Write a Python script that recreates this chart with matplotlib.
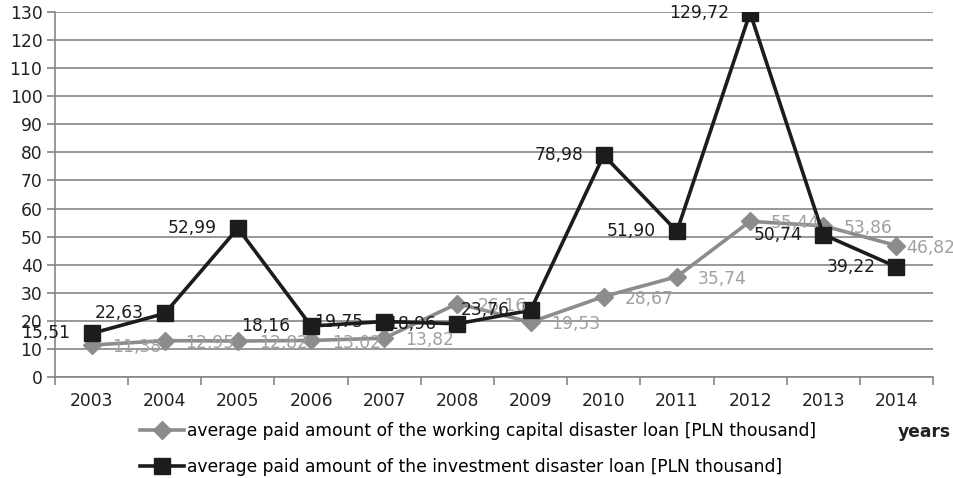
import matplotlib
matplotlib.use("Agg")
import matplotlib.pyplot as plt
import numpy as np

plt.rcParams['font.family'] = ['DejaVu Sans']

# data
years = ['2003', '2004', '2005', '2006', '2007', '2008',
         '2009', '2010', '2011', '2012', '2013', '2014']
working = [11.38, 12.95, 12.82, 13.02, 13.82, 26.16,
           19.53, 28.67, 35.74, 55.44, 53.86, 46.82]
investment = [15.51, 22.63, 52.99, 18.16, 19.75, 18.96,
              23.76, 78.98, 51.90, 129.72, 50.74, 39.22]
y_ticks = list(range(0, 131, 10))

label_working = 'average paid amount of the working capital disaster loan [PLN thousand]'
label_invest = 'average paid amount of the investment disaster loan [PLN thousand]'

grey = '#8c8c8c'
grey_txt = '#a0a0a0'
black = '#1c1c1c'
axis_col = '#868686'

fig = plt.figure(figsize=(9.54, 4.78), dpi=100)
ax = fig.add_axes([55 / 954, 1 - 377 / 478, (933 - 55) / 954, (377 - 12) / 478])

x = np.arange(len(years))

ln_w, = ax.plot(x, working, color=grey, lw=2.6, marker='D', markersize=9,
                label=label_working, zorder=3)
ln_i, = ax.plot(x, investment, color=black, lw=2.6, marker='s', markersize=11.5,
                label=label_invest, zorder=4)

fs = 12.3
# labels for the working capital series, right of the markers
for i, v in enumerate(working):
    dx = 7 if i == len(working) - 1 else 15
    ax.annotate(f'{v:.2f}'.replace('.', ','), (x[i], v), xytext=(dx, -1.5),
                textcoords='offset points', ha='left', va='center',
                color=grey_txt, fontsize=fs, zorder=5)

# labels for the investment series, left of the markers
for i, v in enumerate(investment):
    ax.annotate(f'{v:.2f}'.replace('.', ','), (x[i], v), xytext=(-15, 0),
                textcoords='offset points', ha='right', va='center',
                color=black, fontsize=fs, zorder=5)

ax.set_xlim(-0.5, len(years) - 0.5)
ax.set_ylim(0, 130)
ax.set_yticks(y_ticks)
ax.set_yticklabels([str(t) for t in y_ticks], fontsize=fs, color='#222222')
ax.set_xticks(x)
ax.set_xticklabels(years, fontsize=fs, color='#222222')
ax.set_xticks(np.arange(-0.5, len(years), 1), minor=True)
ax.tick_params(axis='x', which='major', length=0, pad=11)
ax.tick_params(axis='x', which='minor', length=6, color=axis_col, width=1.2)
ax.tick_params(axis='y', length=6, color=axis_col, width=1.2, pad=3)

ax.grid(axis='y', color=axis_col, lw=1.2, zorder=0)
ax.set_axisbelow(True)
for s in ['top', 'right']:
    ax.spines[s].set_visible(False)
for s in ['left', 'bottom']:
    ax.spines[s].set_color(axis_col)
    ax.spines[s].set_linewidth(1.2)

fig.legend(handles=[ln_w, ln_i], loc='center left',
           bbox_to_anchor=(140 / 954, 1 - 449 / 478), frameon=False,
           fontsize=fs, handlelength=2.6, handletextpad=0.15,
           labelspacing=1.0, borderaxespad=0, borderpad=0)

fig.text(0.997, 1 - 432 / 478, 'years', ha='right', va='center',
         fontsize=fs, fontweight='bold', color='#222222')

fig.savefig('out.png', dpi=100)
